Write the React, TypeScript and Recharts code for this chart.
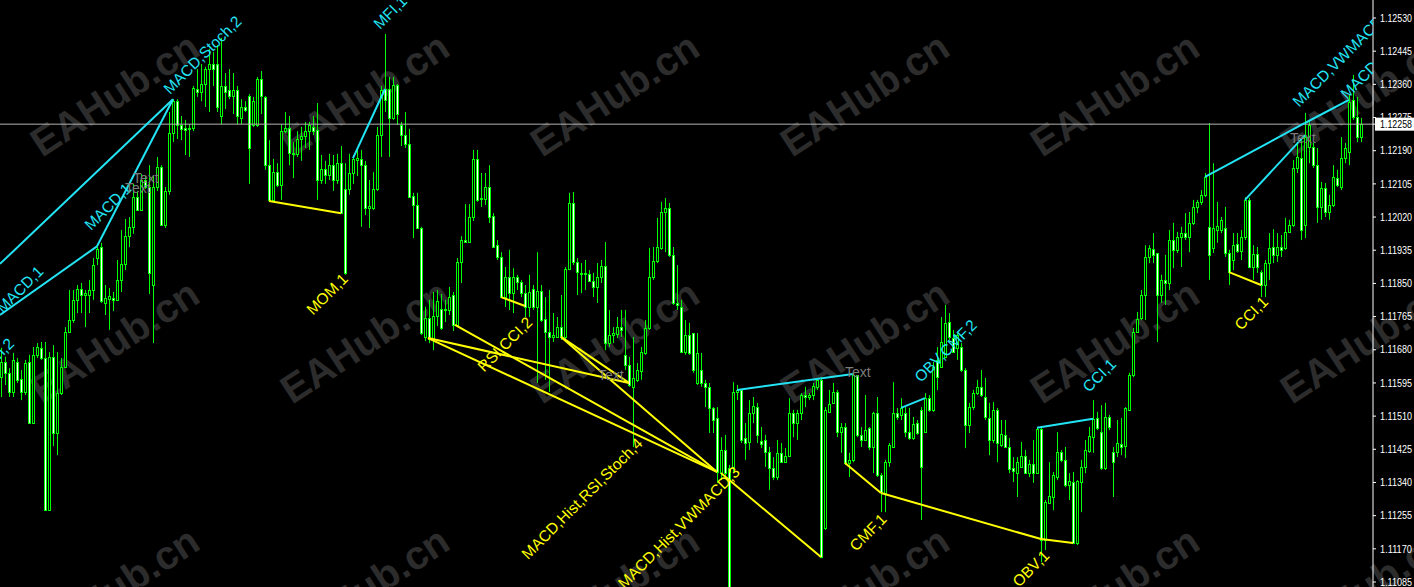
import React from "react";
import { ComposedChart, Bar, Scatter, XAxis, YAxis, ReferenceLine } from "recharts";

// EURUSD-style candles, one per bar index
const OPEN = [
  1.11610, 1.11649, 1.11621, 1.11572, 1.11649, 1.11605, 1.11572, 1.11649, 1.11492, 1.11667, 1.11685, 1.11659, 1.11269, 1.11662, 1.11467, 1.11569, 1.11636, 1.11726, 1.11756, 1.11808,
  1.11836, 1.11820, 1.11820, 1.11833, 1.11915, 1.11943, 1.11800, 1.11810, 1.11813, 1.11808, 1.11859, 1.11900, 1.11971, 1.11995, 1.12071, 1.12038, 1.12115, 1.12097, 1.11846, 1.12097,
  1.12148, 1.12000, 1.12087, 1.12235, 1.12317, 1.12256, 1.12248, 1.12246, 1.12248, 1.12348, 1.12340, 1.12361, 1.12399, 1.12412, 1.12412, 1.12279, 1.12356, 1.12346, 1.12330, 1.12346,
  1.12274, 1.12302, 1.12330, 1.12256, 1.12256, 1.12374, 1.12328, 1.12153, 1.12064, 1.12135, 1.12102, 1.12240, 1.12248, 1.12184, 1.12182, 1.12220, 1.12228, 1.12240, 1.12251, 1.12243,
  1.12115, 1.12143, 1.12128, 1.12153, 1.12115, 1.12158, 1.12092, 1.12092, 1.12133, 1.12166, 1.12169, 1.12153, 1.12043, 1.12043, 1.12092, 1.12230, 1.12348, 1.12348, 1.12274, 1.12358,
  1.12256, 1.12230, 1.12207, 1.12074, 1.12051, 1.11992, 1.11713, 1.11761, 1.11708, 1.11767, 1.11784, 1.11782, 1.11782, 1.11820, 1.11744, 1.11905, 1.11961, 1.11956, 1.12020, 1.12169,
  1.12066, 1.12066, 1.12097, 1.12023, 1.11948, 1.11918, 1.11815, 1.11866, 1.11825, 1.11866, 1.11854, 1.11825, 1.11790, 1.11836, 1.11790, 1.11830, 1.11759, 1.11726, 1.11713, 1.11713,
  1.11738, 1.11713, 1.11887, 1.12056, 1.11905, 1.11877, 1.11874, 1.11874, 1.11856, 1.11841, 1.11866, 1.11895, 1.11697, 1.11718, 1.11720, 1.11738, 1.11667, 1.11641, 1.11585, 1.11603,
  1.11626, 1.11672, 1.11736, 1.11866, 1.11907, 1.11941, 1.12033, 1.12043, 1.11923, 1.11800, 1.11790, 1.11674, 1.11718, 1.11723, 1.11595, 1.11628, 1.11595, 1.11585, 1.11531, 1.11505,
  1.11364, 1.11423, 1.11377, 1.11380, 1.11572, 1.11577, 1.11454, 1.11444, 1.11518, 1.11533, 1.11446, 1.11449, 1.11418, 1.11377, 1.11354, 1.11416, 1.11392, 1.11408, 1.11518, 1.11492,
  1.11518, 1.11564, 1.11559, 1.11564, 1.11585, 1.11603, 1.11223, 1.11521, 1.11544, 1.11572, 1.11469, 1.11482, 1.11390, 1.11398, 1.11615, 1.11462, 1.11449, 1.11480, 1.11431, 1.11518,
  1.11359, 1.11313, 1.11392, 1.11431, 1.11518, 1.11513, 1.11518, 1.11469, 1.11454, 1.11492, 1.11526, 1.11469, 1.11556, 1.11526, 1.11654, 1.11636, 1.11662, 1.11751, 1.11710, 1.11685,
  1.11687, 1.11628, 1.11487, 1.11533, 1.11569, 1.11585, 1.11559, 1.11505, 1.11449, 1.11526, 1.11436, 1.11462, 1.11431, 1.11377, 1.11364, 1.11380, 1.11408, 1.11364, 1.11387, 1.11364,
  1.11477, 1.11193, 1.11287, 1.11303, 1.11354, 1.11418, 1.11398, 1.11333, 1.11341, 1.11185, 1.11341, 1.11380, 1.11421, 1.11456, 1.11505, 1.11469, 1.11377, 1.11508, 1.11418, 1.11418,
  1.11439, 1.11433, 1.11526, 1.11615, 1.11726, 1.11761, 1.11820, 1.11918, 1.11938, 1.11928, 1.11820, 1.11859, 1.11851, 1.11961, 1.11936, 1.11969, 1.11979, 1.11969, 1.12005, 1.12046,
  1.12059, 1.12077, 1.11995, 1.11941, 1.11987, 1.11987, 1.11992, 1.11928, 1.11910, 1.11951, 1.11933, 1.11969, 1.12064, 1.11892, 1.11925, 1.11879, 1.11846, 1.11902, 1.11943, 1.11923,
  1.11943, 1.11941, 1.11982, 1.12000, 1.12146, 1.12171, 1.12000, 1.12200, 1.12200, 1.12153, 1.12046, 1.12094, 1.12033, 1.12051, 1.12120, 1.12097, 1.12171, 1.12187, 1.12320, 1.12276, 1.12225,
];

const HIGH = [
  1.11685, 1.11662, 1.11633, 1.11672, 1.11659, 1.11628, 1.11654, 1.11667, 1.11687, 1.11697, 1.11700, 1.11700, 1.11674, 1.11692, 1.11674, 1.11659, 1.11738, 1.11833, 1.11833, 1.11846,
  1.11851, 1.11833, 1.11859, 1.11915, 1.11948, 1.11954, 1.11846, 1.11838, 1.11828, 1.11910, 1.11987, 1.12015, 1.12020, 1.12105, 1.12087, 1.12130, 1.12125, 1.12153, 1.12125, 1.12174,
  1.12153, 1.12097, 1.12289, 1.12322, 1.12322, 1.12279, 1.12269, 1.12258, 1.12356, 1.12399, 1.12412, 1.12405, 1.12451, 1.12443, 1.12461, 1.12479, 1.12389, 1.12399, 1.12389, 1.12356,
  1.12322, 1.12317, 1.12335, 1.12328, 1.12379, 1.12394, 1.12330, 1.12217, 1.12169, 1.12158, 1.12258, 1.12289, 1.12279, 1.12212, 1.12240, 1.12251, 1.12264, 1.12264, 1.12279, 1.12312,
  1.12179, 1.12164, 1.12182, 1.12179, 1.12182, 1.12202, 1.12158, 1.12182, 1.12179, 1.12192, 1.12192, 1.12164, 1.12115, 1.12135, 1.12251, 1.12356, 1.12489, 1.12379, 1.12379, 1.12361,
  1.12264, 1.12289, 1.12246, 1.12082, 1.12082, 1.11995, 1.11790, 1.11808, 1.11828, 1.11833, 1.11823, 1.11808, 1.11841, 1.11828, 1.11915, 1.11971, 1.12053, 1.12053, 1.12192, 1.12192,
  1.12133, 1.12133, 1.12153, 1.12030, 1.11961, 1.11930, 1.11892, 1.11936, 1.11889, 1.11872, 1.11859, 1.11846, 1.11872, 1.11846, 1.11930, 1.11846, 1.11815, 1.11833, 1.11774, 1.11764,
  1.11820, 1.11892, 1.12082, 1.12084, 1.11915, 1.11902, 1.11910, 1.11884, 1.11877, 1.11902, 1.11910, 1.11956, 1.11782, 1.11738, 1.11764, 1.11782, 1.11782, 1.11662, 1.11713, 1.11646,
  1.11687, 1.11756, 1.11941, 1.11943, 1.12018, 1.12059, 1.12069, 1.12056, 1.11943, 1.11897, 1.11808, 1.11756, 1.11749, 1.11723, 1.11723, 1.11672, 1.11603, 1.11595, 1.11533, 1.11533,
  1.11456, 1.11462, 1.11385, 1.11597, 1.11590, 1.11577, 1.11492, 1.11551, 1.11559, 1.11544, 1.11482, 1.11462, 1.11431, 1.11405, 1.11449, 1.11441, 1.11428, 1.11556, 1.11526, 1.11526,
  1.11569, 1.11585, 1.11569, 1.11595, 1.11608, 1.11610, 1.11533, 1.11577, 1.11595, 1.11577, 1.11492, 1.11492, 1.11416, 1.11621, 1.11615, 1.11482, 1.11564, 1.11482, 1.11521, 1.11559,
  1.11364, 1.11398, 1.11441, 1.11597, 1.11531, 1.11556, 1.11533, 1.11531, 1.11508, 1.11500, 1.11533, 1.11569, 1.11564, 1.11649, 1.11687, 1.11764, 1.11795, 1.11774, 1.11731, 1.11723,
  1.11697, 1.11633, 1.11544, 1.11577, 1.11603, 1.11628, 1.11608, 1.11544, 1.11546, 1.11531, 1.11500, 1.11500, 1.11454, 1.11405, 1.11405, 1.11444, 1.11423, 1.11398, 1.11449, 1.11482,
  1.11482, 1.11295, 1.11392, 1.11367, 1.11469, 1.11423, 1.11431, 1.11364, 1.11367, 1.11346, 1.11398, 1.11449, 1.11482, 1.11551, 1.11521, 1.11538, 1.11544, 1.11513, 1.11431, 1.11500,
  1.11505, 1.11533, 1.11621, 1.11736, 1.11777, 1.11833, 1.11948, 1.11948, 1.11979, 1.11928, 1.11872, 1.11923, 1.11987, 1.12005, 1.11982, 1.11995, 1.12030, 1.12033, 1.12064, 1.12064,
  1.12089, 1.12133, 1.12261, 1.12158, 1.12059, 1.12020, 1.12046, 1.11936, 1.11979, 1.11979, 1.11987, 1.12071, 1.12069, 1.11948, 1.11943, 1.11884, 1.11910, 1.11979, 1.11989, 1.11979,
  1.11974, 1.12018, 1.12013, 1.12166, 1.12210, 1.12217, 1.12287, 1.12269, 1.12210, 1.12197, 1.12110, 1.12107, 1.12077, 1.12153, 1.12141, 1.12225, 1.12210, 1.12333, 1.12384, 1.12328, 1.12274,
];

const LOW = [
  1.11559, 1.11590, 1.11559, 1.11559, 1.11595, 1.11551, 1.11564, 1.11492, 1.11492, 1.11659, 1.11654, 1.11269, 1.11269, 1.11433, 1.11410, 1.11564, 1.11633, 1.11723, 1.11749, 1.11774,
  1.11774, 1.11738, 1.11774, 1.11808, 1.11897, 1.11800, 1.11769, 1.11731, 1.11779, 1.11808, 1.11828, 1.11884, 1.11943, 1.11977, 1.12038, 1.12038, 1.12092, 1.11823, 1.11697, 1.12087,
  1.12000, 1.11992, 1.12077, 1.12212, 1.12220, 1.12217, 1.12179, 1.12174, 1.12240, 1.12328, 1.12317, 1.12302, 1.12289, 1.12356, 1.12289, 1.12258, 1.12297, 1.12322, 1.12284, 1.12258,
  1.12258, 1.12289, 1.12105, 1.12251, 1.12251, 1.12284, 1.12141, 1.12059, 1.12059, 1.12097, 1.12064, 1.12235, 1.12153, 1.12120, 1.12174, 1.12164, 1.12197, 1.12192, 1.12230, 1.12064,
  1.12105, 1.12105, 1.12115, 1.12087, 1.12105, 1.12030, 1.11872, 1.12077, 1.12105, 1.12125, 1.11995, 1.12025, 1.11992, 1.12038, 1.12087, 1.12174, 1.12289, 1.12174, 1.12269, 1.12256,
  1.12202, 1.12197, 1.12071, 1.11966, 1.11992, 1.11718, 1.11702, 1.11697, 1.11679, 1.11741, 1.11731, 1.11751, 1.11769, 1.11728, 1.11741, 1.11851, 1.11954, 1.11954, 1.12010, 1.12059,
  1.12046, 1.12051, 1.12005, 1.11941, 1.11910, 1.11813, 1.11790, 1.11782, 1.11774, 1.11833, 1.11815, 1.11764, 1.11764, 1.11782, 1.11595, 1.11751, 1.11603, 1.11572, 1.11700, 1.11713,
  1.11705, 1.11705, 1.11884, 1.11897, 1.11820, 1.11825, 1.11833, 1.11854, 1.11815, 1.11800, 1.11851, 1.11679, 1.11687, 1.11697, 1.11710, 1.11713, 1.11628, 1.11585, 1.11431, 1.11597,
  1.11603, 1.11667, 1.11731, 1.11859, 1.11902, 1.11936, 1.11930, 1.11918, 1.11795, 1.11782, 1.11672, 1.11667, 1.11667, 1.11621, 1.11590, 1.11585, 1.11533, 1.11467, 1.11467, 1.11339,
  1.11346, 1.11351, 1.11039, 1.11364, 1.11551, 1.11441, 1.11398, 1.11423, 1.11492, 1.11441, 1.11428, 1.11380, 1.11321, 1.11346, 1.11346, 1.11390, 1.11390, 1.11405, 1.11456, 1.11449,
  1.11500, 1.11533, 1.11551, 1.11551, 1.11577, 1.11146, 1.11218, 1.11518, 1.11544, 1.11456, 1.11416, 1.11385, 1.11354, 1.11392, 1.11456, 1.11431, 1.11449, 1.11423, 1.11364, 1.11354,
  1.11264, 1.11264, 1.11380, 1.11431, 1.11500, 1.11500, 1.11456, 1.11449, 1.11449, 1.11462, 1.11244, 1.11467, 1.11521, 1.11521, 1.11577, 1.11636, 1.11659, 1.11705, 1.11672, 1.11654,
  1.11623, 1.11428, 1.11467, 1.11526, 1.11564, 1.11559, 1.11500, 1.11410, 1.11441, 1.11392, 1.11431, 1.11428, 1.11364, 1.11341, 1.11303, 1.11377, 1.11364, 1.11354, 1.11339, 1.11364,
  1.11136, 1.11167, 1.11287, 1.11269, 1.11346, 1.11392, 1.11328, 1.11295, 1.11185, 1.11180, 1.11264, 1.11364, 1.11416, 1.11416, 1.11474, 1.11372, 1.11372, 1.11474, 1.11303, 1.11405,
  1.11410, 1.11403, 1.11526, 1.11610, 1.11723, 1.11756, 1.11756, 1.11902, 1.11902, 1.11700, 1.11800, 1.11795, 1.11833, 1.11889, 1.11928, 1.11892, 1.11961, 1.11930, 1.12000, 1.12030,
  1.12051, 1.12071, 1.11859, 1.11928, 1.11954, 1.11979, 1.11918, 1.11846, 1.11884, 1.11928, 1.11910, 1.11961, 1.11889, 1.11859, 1.11877, 1.11815, 1.11815, 1.11859, 1.11902, 1.11905,
  1.11918, 1.11936, 1.11979, 1.11995, 1.12133, 1.11961, 1.11966, 1.12158, 1.12146, 1.12005, 1.12013, 1.12020, 1.12013, 1.12046, 1.12097, 1.12089, 1.12158, 1.12153, 1.12269, 1.12212, 1.12212,
];

const CLOSE = [
  1.11649, 1.11621, 1.11572, 1.11654, 1.11603, 1.11572, 1.11646, 1.11492, 1.11667, 1.11687, 1.11659, 1.11270, 1.11662, 1.11467, 1.11569, 1.11636, 1.11726, 1.11756, 1.11808, 1.11836,
  1.11820, 1.11825, 1.11833, 1.11897, 1.11938, 1.11805, 1.11813, 1.11818, 1.11808, 1.11859, 1.11900, 1.11971, 1.11995, 1.12071, 1.12038, 1.12115, 1.12097, 1.11877, 1.12097, 1.12148,
  1.12000, 1.12087, 1.12235, 1.12317, 1.12256, 1.12246, 1.12243, 1.12248, 1.12351, 1.12340, 1.12361, 1.12399, 1.12412, 1.12399, 1.12302, 1.12356, 1.12340, 1.12330, 1.12346, 1.12279,
  1.12302, 1.12294, 1.12197, 1.12317, 1.12374, 1.12330, 1.12153, 1.12064, 1.12135, 1.12102, 1.12240, 1.12248, 1.12184, 1.12182, 1.12220, 1.12228, 1.12240, 1.12256, 1.12240, 1.12115,
  1.12143, 1.12128, 1.12153, 1.12115, 1.12158, 1.12030, 1.11877, 1.12133, 1.12169, 1.12171, 1.12153, 1.12043, 1.12048, 1.12092, 1.12230, 1.12346, 1.12320, 1.12274, 1.12358, 1.12284,
  1.12230, 1.12207, 1.12071, 1.12051, 1.11992, 1.11723, 1.11761, 1.11708, 1.11767, 1.11805, 1.11736, 1.11784, 1.11815, 1.11744, 1.11905, 1.11961, 1.11956, 1.12020, 1.12169, 1.12064,
  1.12069, 1.12097, 1.12020, 1.11943, 1.11918, 1.11815, 1.11866, 1.11825, 1.11866, 1.11854, 1.11825, 1.11790, 1.11828, 1.11790, 1.11830, 1.11756, 1.11726, 1.11713, 1.11718, 1.11738,
  1.11713, 1.11887, 1.12056, 1.11905, 1.11879, 1.11874, 1.11877, 1.11856, 1.11841, 1.11866, 1.11895, 1.11697, 1.11718, 1.11723, 1.11738, 1.11731, 1.11641, 1.11590, 1.11608, 1.11628,
  1.11674, 1.11736, 1.11866, 1.11907, 1.11943, 1.12033, 1.12043, 1.11923, 1.11800, 1.11795, 1.11674, 1.11718, 1.11672, 1.11628, 1.11672, 1.11595, 1.11585, 1.11531, 1.11500, 1.11367,
  1.11423, 1.11364, 1.11072, 1.11572, 1.11577, 1.11449, 1.11441, 1.11518, 1.11536, 1.11462, 1.11439, 1.11418, 1.11377, 1.11354, 1.11416, 1.11392, 1.11408, 1.11518, 1.11492, 1.11518,
  1.11564, 1.11559, 1.11564, 1.11587, 1.11603, 1.11149, 1.11526, 1.11541, 1.11572, 1.11469, 1.11482, 1.11390, 1.11398, 1.11615, 1.11462, 1.11449, 1.11474, 1.11431, 1.11518, 1.11359,
  1.11316, 1.11392, 1.11436, 1.11518, 1.11508, 1.11531, 1.11469, 1.11454, 1.11490, 1.11467, 1.11380, 1.11556, 1.11526, 1.11636, 1.11610, 1.11700, 1.11749, 1.11713, 1.11674, 1.11718,
  1.11628, 1.11487, 1.11533, 1.11569, 1.11585, 1.11564, 1.11508, 1.11449, 1.11526, 1.11441, 1.11464, 1.11431, 1.11375, 1.11369, 1.11392, 1.11408, 1.11364, 1.11387, 1.11364, 1.11477,
  1.11193, 1.11290, 1.11305, 1.11359, 1.11418, 1.11398, 1.11333, 1.11344, 1.11185, 1.11344, 1.11380, 1.11423, 1.11459, 1.11503, 1.11480, 1.11377, 1.11508, 1.11482, 1.11392, 1.11441,
  1.11431, 1.11531, 1.11615, 1.11726, 1.11759, 1.11820, 1.11918, 1.11941, 1.11923, 1.11820, 1.11859, 1.11851, 1.11961, 1.11936, 1.11969, 1.11979, 1.11969, 1.12005, 1.12046, 1.12059,
  1.12077, 1.12123, 1.11923, 1.11992, 1.11997, 1.12013, 1.11928, 1.11879, 1.11948, 1.11933, 1.11969, 1.12064, 1.11892, 1.11925, 1.11892, 1.11846, 1.11902, 1.11941, 1.11923, 1.11943,
  1.11936, 1.11982, 1.12000, 1.12146, 1.12174, 1.11987, 1.12225, 1.12256, 1.12153, 1.12046, 1.12094, 1.12033, 1.12051, 1.12123, 1.12102, 1.12171, 1.12197, 1.12315, 1.12276, 1.12225, 1.12258,
];

const PRICE_TICKS = [
  1.1253, 1.12445, 1.1236, 1.12275, 1.1219, 1.12105, 1.1202, 1.11935, 1.1185,
  1.11765, 1.1168, 1.11595, 1.1151, 1.11425, 1.1134, 1.11255, 1.1117, 1.11085,
];
const LAST_PRICE = 1.12258;

// divergence lines: "up" = cyan, "down" = yellow; points are [bar index, price]
const TREND_KIND = ["up", "up", "up", "up", "up", "up", "up", "up",
  "down", "down", "down", "down", "down", "down", "down", "down", "down", "down"];
const TREND_POINTS: number[][][] = [
  [[-0.25, 1.119], [43, 1.12322]],
  [[-0.25, 1.11769], [24, 1.11945], [43, 1.12322]],
  [[88, 1.12171], [96, 1.12348]],
  [[184, 1.11577], [213, 1.11618]],
  [[225, 1.11531], [231, 1.11556]],
  [[259, 1.1148], [273, 1.11503]],
  [[301, 1.12123], [326, 1.12261], [337, 1.1232]],
  [[311, 1.12064], [326, 1.1223]],
  [[67, 1.12061], [85, 1.1203]],
  [[125, 1.11815], [131, 1.11792]],
  [[106.75, 1.1171], [157, 1.11595]],
  [[106.75, 1.1171], [179, 1.11367]],
  [[113.5, 1.11744], [179, 1.11367]],
  [[140, 1.11713], [157, 1.11595]],
  [[140, 1.11713], [179, 1.11367]],
  [[180, 1.11364], [205, 1.11149]],
  [[211, 1.1139], [220, 1.11313], [260, 1.11195], [268, 1.11185]],
  [[307, 1.11879], [315, 1.11846]],
];

// labels: start of text at [bar index, price]
const TAG_TEXT = [
  "MACD,1", "Stoch,2", "MACD,1", "Text", "Text", "MACD,Stoch,2", "MFI,1", "MOM,1",
  "RSI,CCI,2", "Text", "MACD,Hist,RSI,Stoch,4", "MACD,Hist,VWMACD,3", "Text", "OBV,CMF,2",
  "CMF,1", "OBV,1", "CCI,1", "CCI,1", "Text", "MACD,VWMACD,2", "MACD,VWMACD,1",
];
const TAG_KIND = [
  "up", "up", "up", "note", "note", "up", "up", "down",
  "down", "note", "down", "down", "note", "up",
  "down", "down", "up", "down", "note", "up", "up",
];
const TAG_INDEX = [0.5, -5.75, 22.5, 33, 31, 42.25, 94.75, 78, 120.75, 149.25, 131.75, 155.9, 211, 230, 213.75, 254.5, 272, 310, 322.25, 324.5, 336.5];
const TAG_PRICE = [1.11772, 1.11598, 1.11984, 1.12107, 1.12082, 1.12333, 1.12499, 1.11767, 1.11621, 1.11603, 1.11141, 1.11066, 1.1161, 1.11595, 1.11162, 1.1107, 1.11569, 1.11728, 1.1221, 1.123, 1.1232];

const Y_MAX = 1.125761;
const Y_MIN = 1.110722;
const CYAN = "#22e4f4";
const YELLOW = "#ffff00";
const GREEN = "#00ff00";

const candles = OPEN.map((o, i) => ({ i, o, h: HIGH[i], l: LOW[i], c: CLOSE[i] }));
const tags = TAG_TEXT.map((text, k) => ({ i: TAG_INDEX[k], p: TAG_PRICE[k], text, kind: TAG_KIND[k] }));

function Candle(props: any) {
  const { x, y, width, height, payload } = props;
  if (x == null || y == null || !payload) return null;
  const top = Math.min(y, y + height);
  const hgt = Math.abs(height);
  const { o, h, l, c } = payload;
  const span = h - l || 1;
  const py = (v: number) => top + ((h - v) / span) * hgt;
  const cx = Math.round(x + width / 2) + 0.5;
  const bTop = Math.round(py(Math.max(o, c))) + 0.5;
  const bBot = Math.round(py(Math.min(o, c))) + 0.5;
  const bull = c > o;
  return (
    <g>
      <line x1={cx} x2={cx} y1={top} y2={top + hgt} stroke={GREEN} strokeWidth={1} />
      {bBot - bTop < 1 ? (
        <line x1={cx - 1.5} x2={cx + 1.5} y1={bTop} y2={bTop} stroke={GREEN} strokeWidth={1} />
      ) : (
        <rect x={cx - 1} y={bTop} width={2} height={bBot - bTop} fill={bull ? "#000" : "#fff"} stroke={GREEN} strokeWidth={1} />
      )}
    </g>
  );
}

function Tag(props: any) {
  const { cx, cy, payload } = props;
  if (cx == null || cy == null || !payload) return null;
  if (payload.kind === "note") {
    return (
      <text x={cx} y={cy} fill="#7c7c7c" fontSize={14} fontFamily="Liberation Sans, Arial, sans-serif">
        {payload.text}
      </text>
    );
  }
  return (
    <text
      x={cx}
      y={cy}
      transform={`rotate(-45 ${cx} ${cy})`}
      fill={payload.kind === "up" ? CYAN : YELLOW}
      fontSize={15.5}
      fontFamily="Liberation Sans, Arial, sans-serif"
    >
      {payload.text}
    </text>
  );
}

function PriceTick(props: any) {
  const { x, y, payload } = props;
  const v = payload.value;
  if (v === LAST_PRICE) {
    return (
      <g>
        <rect x={1375} y={y - 6.5} width={39} height={13} fill="#fff" />
        <text x={1380} y={y} dy="0.35em" fill="#000" fontSize={10.5} textLength={32} lengthAdjust="spacingAndGlyphs" fontFamily="Liberation Sans, Arial, sans-serif">
          {v.toFixed(5)}
        </text>
      </g>
    );
  }
  return (
    <text x={x} y={y} dy="0.35em" fill="#fff" fontSize={10.5} textLength={32} lengthAdjust="spacingAndGlyphs" fontFamily="Liberation Sans, Arial, sans-serif">
      {v.toFixed(5)}
    </text>
  );
}

function Watermark() {
  const cols = [42, 292, 542, 792, 1042, 1292];
  const rows = [158, 405, 652];
  return (
    <svg width={1414} height={587} style={{ position: "absolute", left: 0, top: 0 }}>
      {rows.map((ry) =>
        cols.map((rx) => (
          <text
            key={`${rx}-${ry}`}
            x={rx}
            y={ry}
            transform={`rotate(-33 ${rx} ${ry})`}
            fill="#2c2c2c"
            fontSize={40}
            fontWeight="bold"
            fontFamily="Liberation Sans, Arial, sans-serif"
          >
            EAHub.cn
          </text>
        ))
      )}
    </svg>
  );
}

export default function App() {
  const segments: { kind: string; a: number[]; b: number[] }[] = [];
  TREND_POINTS.forEach((pts, k) => {
    for (let j = 0; j < pts.length - 1; j++) segments.push({ kind: TREND_KIND[k], a: pts[j], b: pts[j + 1] });
  });
  return (
    <div style={{ position: "fixed", left: 0, top: 0, width: 1414, height: 587, background: "#000", overflow: "hidden" }}>
      <Watermark />
      <div style={{ position: "absolute", left: 0, top: 0 }}>
        <ComposedChart width={1414} height={587} data={candles} margin={{ top: 0, right: 0, bottom: 0, left: 0 }}>
          <XAxis type="number" dataKey="i" domain={[-0.25, 343]} hide allowDataOverflow />
          <YAxis
            orientation="right"
            type="number"
            domain={[Y_MIN, Y_MAX]}
            allowDataOverflow
            ticks={[...PRICE_TICKS, LAST_PRICE]}
            interval={0}
            width={41}
            tickSize={3}
            tickMargin={4}
            axisLine={{ stroke: "#ffffff" }}
            tickLine={{ stroke: "#ffffff" }}
            tick={PriceTick}
          />
          <ReferenceLine y={LAST_PRICE} stroke="#b4b4b4" strokeWidth={1} />
          <Bar dataKey={(d: any) => [d.l, d.h]} barSize={3} shape={Candle} isAnimationActive={false} />
          {segments.map((s, k) => (
            <ReferenceLine
              key={k}
              segment={[{ x: s.a[0], y: s.a[1] }, { x: s.b[0], y: s.b[1] }]}
              stroke={s.kind === "up" ? CYAN : YELLOW}
              strokeWidth={2}
              ifOverflow="visible"
            />
          ))}
          <Scatter data={tags} dataKey="p" shape={Tag} isAnimationActive={false} />
        </ComposedChart>
      </div>
    </div>
  );
}
